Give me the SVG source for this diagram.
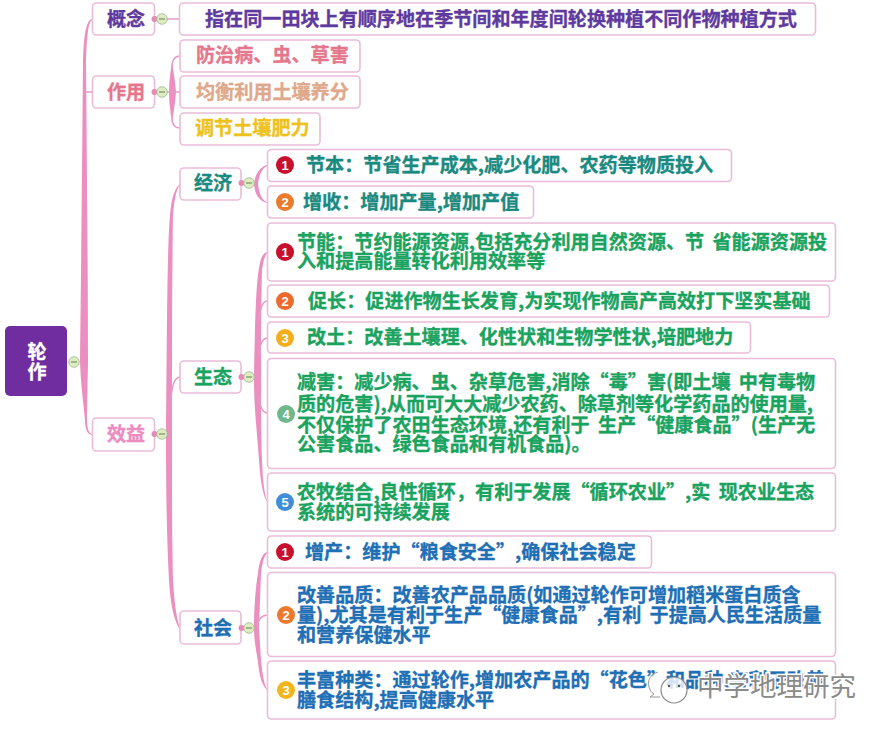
<svg xmlns="http://www.w3.org/2000/svg" width="892" height="737" viewBox="0 0 892 737">
<style>
text{font-family:"Noto Sans CJK SC","Noto Sans",sans-serif;font-weight:700;font-size:19.1px;stroke-width:.35px;word-spacing:4px}
.b{fill:#fff;stroke:#e9bcd9;stroke-width:1.6}
.c{fill:#ea8fc0;stroke:none}
.l{fill:none;stroke:#e59ac6;stroke-width:1.5}
.dot{fill:#e68ab8}
.t{fill:#dcedc0;stroke:#a4b294;stroke-width:.8}
.m{stroke:#6a7a5a;stroke-width:1;fill:none}
text.n{font-size:13px;fill:#fff;stroke:none;text-anchor:middle;font-family:"Liberation Sans",sans-serif}
.pu{fill:#5f3a9e;stroke:#5f3a9e}.te{fill:#1a8a80;stroke:#1a8a80}.gr{fill:#1aa35f;stroke:#1aa35f}.bl{fill:#1f6fb5;stroke:#1f6fb5}
.ro{fill:#e5778c;stroke:#e5778c}.sa{fill:#dfa88a;stroke:#dfa88a}.ye{fill:#eec21e;stroke:#eec21e}.pk{fill:#ec8cc0;stroke:#ec8cc0}
.w{fill:#fff;stroke:#fff;text-anchor:middle}
</style>
<defs>
<g id="tg0"><circle class="t" cx="0" cy="0" r="5.3"/><path class="m" d="M-3 0H3"/></g>
<g id="tg"><circle class="dot" cx="-7.500" cy="0" r="3"/><use href="#tg0"/></g>
</defs>
<g id="connectors">
<path class="c" d="M80 361C81 280 82 180 83 60Q84 20 92 19V20Q87 22 86 60C87 180 88 280 88 361C87.500 390 87 410 87 420Q87 433 92 434V435Q85 434 85 420C84 405 81 390 80 361Z"/>
<path class="l" d="M85 92H92"/>
<path class="c" d="M166 434C167 340 167 250 170 215Q172 190 180 184V185Q175 190 173 215C172 280 172 360 172 434C172 500 172 540 173 580Q175 615 180 628H179Q171 615 169 580C167 540 166 500 166 434Z"/>
<path class="l" d="M171 400Q172 378 180 377"/>
<path class="c" d="M172 62Q169 80 169 92Q169 105 172 122Q175 105 176 92Q175 80 172 62Z"/>
<path class="l" d="M180 56Q172 56 172 68M180 128Q172 128 172 118M167 92H180"/>
<path class="l" d="M167 19H179"/>
<path class="c" d="M254 184C255 172 262 166 267 165V166C262 168 259 175 258 184C259 193 262 201 267 202V203C260 201 255 196 254 184Z"/>
<path class="c" d="M254 377C255 320 256 285 259 268Q261 253 267 252V253Q264 256 262 270C261 310 261 345 261 377C261 400 261 430 262 460Q263 490 267 501V502Q261 492 259 460C257 430 254 410 254 377Z"/>
<path class="l" d="M259 322Q260 302 267 301M259 355Q260 339 267 338M259 395Q260 412 267 413"/>
<path class="c" d="M254 628C254 605 256 585 258 573Q260 554 267 552V553Q263 557 261 573L259 628L261 660Q263 683 267 689V690Q260 684 258 662C256 650 254 640 254 628Z"/>
<path class="l" d="M257 626Q259 616 267 615"/>
</g>
<g id="root"><rect x="5" y="326" width="62" height="70" rx="5" fill="#6f2da0"/><text x="37" y="359" class="w">轮</text><text x="37" y="379" class="w">作</text><use href="#tg0" x="74" y="362"/></g>
<g id="n1"><rect class="b" x="92.500" y="3" width="62" height="32" rx="4"/><text x="107" y="26" class="pu">概念</text><use href="#tg" x="162" y="19"/></g>
<g id="n2"><rect class="b" x="179.500" y="3" width="636" height="32" rx="4"/><text x="205" y="26" class="pu">指在同一田块上有顺序地在季节间和年度间轮换种植不同作物种植方式</text></g>
<g id="n3"><rect class="b" x="92.500" y="76" width="62" height="32" rx="4"/><text x="107" y="99" class="ro">作用</text><use href="#tg" x="162" y="92"/></g>
<g id="n4"><rect class="b" x="180" y="40" width="180" height="32" rx="4"/><text x="196" y="62" class="ro">防治病、虫、草害</text></g>
<g id="n5"><rect class="b" x="180" y="76" width="180" height="32" rx="4"/><text x="196" y="99" class="sa">均衡利用土壤养分</text></g>
<g id="n6"><rect class="b" x="180" y="113" width="140" height="32" rx="4"/><text x="195" y="135" class="ye">调节土壤肥力</text></g>
<g id="n7"><rect class="b" x="92.500" y="418" width="62" height="33" rx="4"/><text x="107" y="441" class="pk">效益</text><use href="#tg" x="162" y="434"/></g>
<g id="n8"><rect class="b" x="180" y="168" width="61" height="32" rx="4"/><text x="194" y="190" class="te">经济</text><use href="#tg" x="249" y="183"/></g>
<g id="n9"><rect class="b" x="267.500" y="149.500" width="464" height="32" rx="4"/><circle cx="285" cy="165" r="9" fill="#c8102e"/><text class="n" x="285" y="169.500">1</text><text x="306" y="172" class="te">节本：节省生产成本,减少化肥、农药等物质投入</text></g>
<g id="n10"><rect class="b" x="267.500" y="186" width="266" height="32" rx="4"/><circle cx="285" cy="202" r="9" fill="#ec7a2e"/><text class="n" x="285" y="206.500">2</text><text x="303" y="209" class="te">增收：增加产量,增加产值</text></g>
<g id="n11"><rect class="b" x="180" y="361" width="61" height="32" rx="4"/><text x="194" y="384" class="gr">生态</text><use href="#tg" x="249" y="377"/></g>
<g id="n12"><rect class="b" x="267.500" y="223" width="568" height="58" rx="4"/><circle cx="285" cy="252" r="9" fill="#c8102e"/><text class="n" x="285" y="256.500">1</text><text x="297" y="249" class="gr">节能：节约能源资源,包括充分利用自然资源、节 省能源资源投</text><text x="297" y="268" class="gr">入和提高能量转化利用效率等</text></g>
<g id="n13"><rect class="b" x="267.500" y="285" width="562" height="32" rx="4"/><circle cx="285" cy="301" r="9" fill="#ec6a2e"/><text class="n" x="285" y="305.500">2</text><text x="308" y="308" class="gr">促长：促进作物生长发育,为实现作物高产高效打下坚实基础</text></g>
<g id="n14"><rect class="b" x="267.500" y="322" width="483" height="31" rx="4"/><circle cx="285" cy="338" r="9" fill="#f2ae1c"/><text class="n" x="285" y="342.500">3</text><text x="307" y="344" class="gr">改土：改善土壤理、化性状和生物学性状,培肥地力</text></g>
<g id="n15"><rect class="b" x="267.500" y="358.500" width="568" height="110" rx="4"/><circle cx="286" cy="414" r="9" fill="#6fb88c"/><text class="n" x="286" y="418.500">4</text><text x="297" y="389" class="gr">减害：减少病、虫、杂草危害,消除“毒”害(即土壤 中有毒物</text><text x="297" y="411" class="gr">质的危害),从而可大大减少农药、除草剂等化学药品的使用量,</text><text x="297" y="432" class="gr">不仅保护了农田生态环境,还有利于 生产“健康食品”(生产无</text><text x="297" y="451" class="gr">公害食品、绿色食品和有机食品)。</text></g>
<g id="n16"><rect class="b" x="267.500" y="473" width="568" height="58" rx="4"/><circle cx="285" cy="502" r="9" fill="#3f8fd8"/><text class="n" x="285" y="506.500">5</text><text x="297" y="499" class="gr">农牧结合,良性循环，有利于发展“循环农业”,实 现农业生态</text><text x="297" y="519" class="gr">系统的可持续发展</text></g>
<g id="n17"><rect class="b" x="180" y="611" width="61" height="33" rx="4"/><text x="194" y="635" class="bl">社会</text><use href="#tg" x="249" y="628"/></g>
<g id="n18"><rect class="b" x="267.500" y="536" width="384" height="32" rx="4"/><circle cx="285" cy="552" r="9" fill="#c8102e"/><text class="n" x="285" y="556.500">1</text><text x="305" y="559" class="bl">增产：维护“粮食安全”,确保社会稳定</text></g>
<g id="n19"><rect class="b" x="267.500" y="572.500" width="568" height="84" rx="4"/><circle cx="286" cy="615" r="9" fill="#ec7a2e"/><text class="n" x="286" y="619.500">2</text><text x="297" y="602" class="bl">改善品质：改善农产品品质(如通过轮作可增加稻米蛋白质含</text><text x="297" y="622" class="bl">量),尤其是有利于生产“健康食品”,有利 于提高人民生活质量</text><text x="297" y="642" class="bl">和营养保健水平</text></g>
<g id="n20"><rect class="b" x="267.500" y="661" width="568" height="58" rx="4"/><circle cx="286" cy="690" r="9" fill="#f2b61c"/><text class="n" x="286" y="694.500">3</text><text x="297" y="687" class="bl">丰富种类：通过轮作,增加农产品的“花色”和品种,有利于改善</text><text x="297" y="707" class="bl">膳食结构,提高健康水平</text></g>
<g id="watermark">
<path d="M658 672C651 674 647 680 649 687Q650 692 654 694L650 697L660 697" fill="rgba(255,255,255,.6)" stroke="#999" stroke-width="1"/>
<circle cx="674" cy="690" r="13" fill="rgba(255,255,255,.8)" stroke="#8a8a8a" stroke-width="1.200"/>
<circle cx="669" cy="686" r="1.200" fill="#555"/><circle cx="679" cy="686" r="1.200" fill="#555"/>
<text x="697" y="696" style="font-size:26.500px;font-weight:400;stroke:#fff;stroke-width:3px;paint-order:stroke" fill="#8a8a8a">中学地理研究</text>
</g>
</svg>
